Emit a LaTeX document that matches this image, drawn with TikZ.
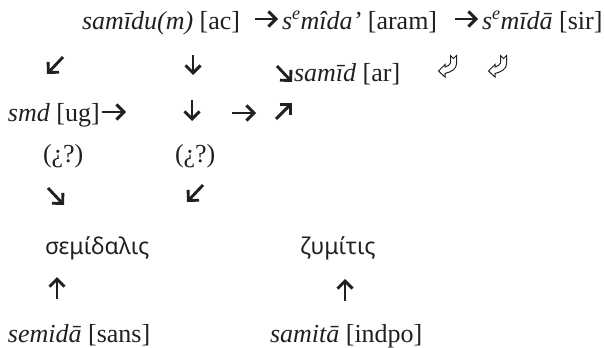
\documentclass[tikz,border=0pt]{standalone}
\usepackage{fontspec}
\setmainfont{Liberation Serif}
\newfontfamily\greekfont{Noto Sans}
\usetikzlibrary{arrows.meta}
\definecolor{ink}{HTML}{231F20}
\tikzset{
  txt/.style={anchor=base west, inner sep=0pt, outer sep=0pt, text=ink,
    font=\fontsize{26}{30}\selectfont},
  grk/.style={anchor=base west, inner sep=0pt, outer sep=0pt, text=ink,
    font=\greekfont\fontsize{23}{28}\selectfont},
  glyph/.style={draw=ink, line width=2.9pt, line cap=butt,
    -{Straight Barb[length=7.5pt,width=15pt,line join=miter]}},
  hookglyph/.pic={
    \draw[ink, line width=1pt, line join=miter]
      (0.5,16) -- (7,9.5) -- (7,12) -- (10.5,10.5) -- (12.5,8) -- (12.5,0.5)
      -- (15.5,3.5) -- (18.5,0.5) -- (18.5,9)
      .. controls (18.5,14) and (13,17) .. (7,18.5) -- (7,22) -- cycle;
  }
}
\begin{document}
\begin{tikzpicture}[x=1pt, y=-1pt]
\useasboundingbox (0,0) rectangle (605,348);
% row 1
\node[txt] (acc) at (82,29) {\textit{samīdu(m)} [ac]};
\node[txt] (aram) at (282,29) {\textit{s\textsuperscript{e}mîda’} [aram]};
\node[txt] (sir) at (482,29) {\textit{s\textsuperscript{e}mīdā} [sir]};
\coordinate (a1s) at (255,19); \coordinate (a1e) at (278,19);
\coordinate (a2s) at (455,19); \coordinate (a2e) at (478,19);
\draw[glyph] (a1s) -- (a1e);
\draw[glyph] (a2s) -- (a2e);
% row 2
\coordinate (b1s) at (63,57); \coordinate (b1e) at (47,74);
\coordinate (b2s) at (193,55); \coordinate (b2e) at (193,75);
\coordinate (b3s) at (277,66); \coordinate (b3e) at (292,82);
\draw[glyph] (b1s) -- (b1e);
\draw[glyph] (b2s) -- (b2e);
\draw[glyph] (b3s) -- (b3e);
\node[txt] (ar) at (294,81) {\textit{samīd} [ar]};
\pic at (438,55) {hookglyph};
\pic at (488,55) {hookglyph};
% row 3
\node[txt] (ug) at (8,121) {\textit{smd} [ug]};
\coordinate (c1s) at (102,112); \coordinate (c1e) at (126,112);
\coordinate (c2s) at (192,100); \coordinate (c2e) at (192,121);
\coordinate (c3s) at (232,113); \coordinate (c3e) at (256,113);
\coordinate (c4s) at (276,119); \coordinate (c4e) at (292,103);
\draw[glyph] (c1s) -- (c1e);
\draw[glyph] (c2s) -- (c2e);
\draw[glyph] (c3s) -- (c3e);
\draw[glyph] (c4s) -- (c4e);
% row 4
\node[txt] (q1) at (43,162) {(¿?)};
\node[txt] (q2) at (175,162) {(¿?)};
% row 5
\coordinate (d1s) at (48,188); \coordinate (d1e) at (64,205);
\coordinate (d2s) at (203,185); \coordinate (d2e) at (187,202);
\draw[glyph] (d1s) -- (d1e);
\draw[glyph] (d2s) -- (d2e);
% row 6
\node[grk] (sem) at (45,254) {σεμίδαλις};
\node[grk] (zym) at (300,254) {ζυμίτις};
% row 7
\coordinate (e1s) at (57,299); \coordinate (e1e) at (57,277);
\coordinate (e2s) at (345,301); \coordinate (e2e) at (345,279);
\draw[glyph] (e1s) -- (e1e);
\draw[glyph] (e2s) -- (e2e);
% row 8
\node[txt] (sans) at (8,342) {\textit{semidā} [sans]};
\node[txt] (indpo) at (270,342) {\textit{samitā} [indpo]};
\end{tikzpicture}
\end{document}
